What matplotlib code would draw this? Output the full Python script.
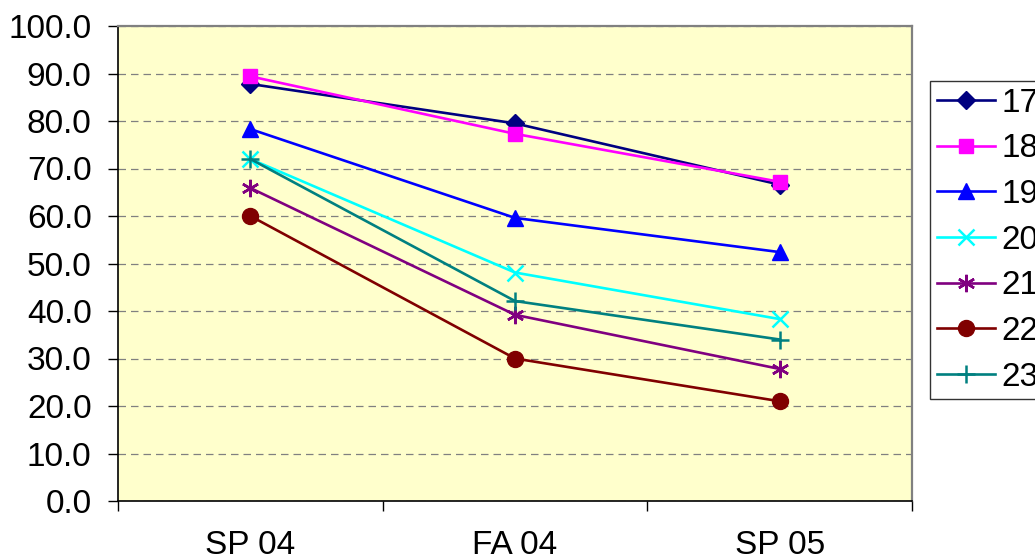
import matplotlib

matplotlib.use("Agg")

import matplotlib.pyplot as plt
from matplotlib.ticker import FixedLocator, FormatStrFormatter

plt.rcParams["font.family"] = ["Liberation Sans", "DejaVu Sans"]

terms = ["SP 04", "FA 04", "SP 05"]
series_names = ["17", "18", "19", "20", "21", "22", "23"]

s17 = [87.8, 79.5, 66.6]
s18 = [89.4, 77.3, 67.2]
s19 = [78.3, 59.6, 52.4]
s20 = [72.0, 48.1, 38.3]
s21 = [65.9, 39.2, 27.8]
s22 = [60.0, 30.0, 21.0]
s23 = [72.0, 42.1, 34.0]

values = [s17, s18, s19, s20, s21, s22, s23]
colors = ["#000080", "#FF00FF", "#0000FF", "#00FFFF", "#800080", "#800000", "#008080"]
markers = ["D", "s", "^", "x", (6, 2, 0), "o", "+"]
sizes = [9.5, 10.5, 11.5, 11.5, 12.5, 11.5, 12.5]

fig = plt.figure(figsize=(10.35, 5.6), dpi=100)
ax = fig.add_axes([118 / 1035, 59 / 560, 794 / 1035, 475 / 560])
ax.set_facecolor("#FFFFCC")

x = list(range(len(terms)))
for name, vals, col, mk, ms in zip(series_names, values, colors, markers, sizes):
    ax.plot(x, vals, color=col, linewidth=1.9, marker=mk, markersize=ms,
            markeredgewidth=1.8 if mk in ("x", "+") or isinstance(mk, tuple) else 1.0,
            markerfacecolor=col, markeredgecolor=col, label=name, zorder=3)

ax.set_xlim(-0.5, 2.5)
ax.set_ylim(0, 100)

# category boundaries carry the tick marks, centres carry the labels
ax.xaxis.set_major_locator(FixedLocator([-0.5, 0.5, 1.5, 2.5]))
ax.xaxis.set_minor_locator(FixedLocator(x))
ax.set_xticklabels([], minor=False)
ax.set_xticklabels(terms, minor=True)
ax.tick_params(axis="x", which="major", direction="out", length=7, width=1, color="black")
ax.tick_params(axis="x", which="minor", length=0, pad=21, labelsize=24)

ax.set_yticks(range(0, 101, 10))
ax.yaxis.set_major_formatter(FormatStrFormatter("%.1f"))
ax.tick_params(axis="y", direction="out", length=7, width=1, color="black", pad=12, labelsize=24)

ax.grid(axis="y", color="#808080", linestyle=(0, (6, 4)), linewidth=0.9)
ax.set_axisbelow(True)

for side in ("top", "right"):
    ax.spines[side].set_color("#808080")
    ax.spines[side].set_linewidth(1.6)
for side in ("left", "bottom"):
    ax.spines[side].set_color("black")
    ax.spines[side].set_linewidth(1.2)

leg = ax.legend(loc="upper left", bbox_to_anchor=(930 / 1035, 1 - 81 / 560),
                bbox_transform=fig.transFigure, fontsize=24, frameon=True,
                fancybox=False, borderpad=0.2, labelspacing=0.44,
                handlelength=1.75, handletextpad=0.2, borderaxespad=0)
leg.get_frame().set_edgecolor("black")
leg.get_frame().set_linewidth(1.0)

fig.savefig("out.png", dpi=100)
